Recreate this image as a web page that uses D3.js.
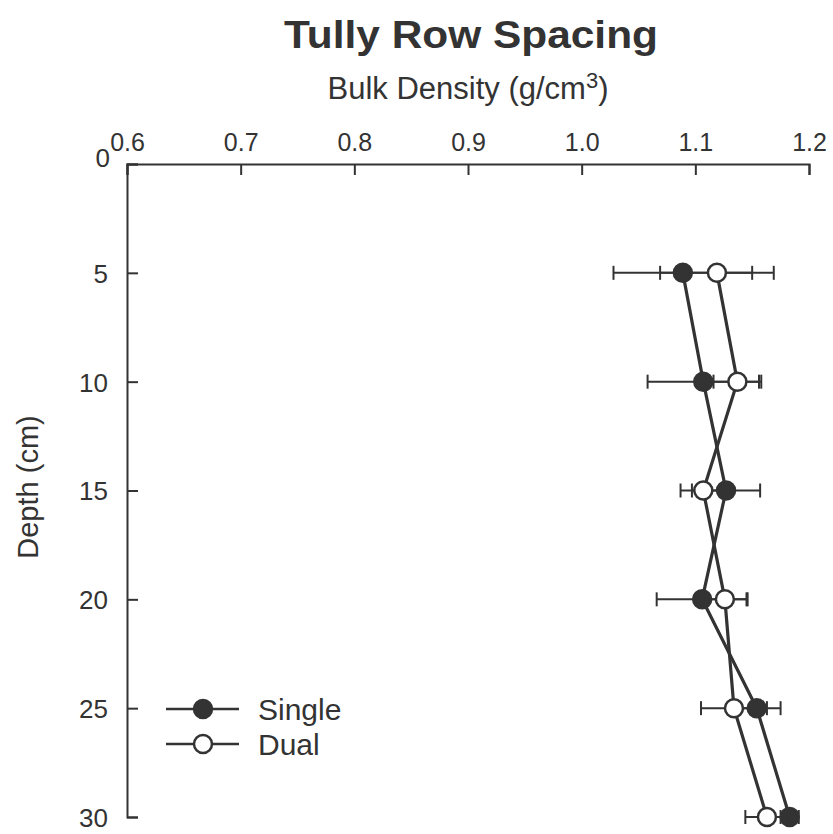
<!DOCTYPE html>
<html>
<head>
<meta charset="utf-8">
<script src="https://cdn.jsdelivr.net/npm/d3@7"></script>
<style>
  body { margin: 0; background: #fff; }
  text { font-family: "Liberation Sans", Arial, sans-serif; fill: #333; }
</style>
</head>
<body>
<div id="chart"></div>
<script>
// data
var depths = [5, 10, 15, 20, 25, 30];
var singleVals = [1.089, 1.107, 1.127, 1.106, 1.154, 1.183];
var singleErr  = [0.061, 0.049, 0.030, 0.040, 0.021, 0.008];
var dualVals   = [1.119, 1.137, 1.107, 1.126, 1.134, 1.163];
var dualErr    = [0.050, 0.021, 0.020, 0.019, 0.029, 0.019];
var xTicks = [0.6, 0.7, 0.8, 0.9, 1.0, 1.1, 1.2];
var yTicks = [0, 5, 10, 15, 20, 25, 30];

var W = 833, H = 834, ink = "#333";

var svg = d3.select("#chart").append("svg")
  .attr("width", W).attr("height", H);

var x = d3.scaleLinear().domain([0.6, 1.2]).range([127, 809]);
var y = d3.scaleLinear().domain([0, 30]).range([164, 817]);

// title
svg.append("text")
  .attr("x", 471).attr("y", 48)
  .attr("text-anchor", "middle")
  .attr("textLength", 374).attr("lengthAdjust", "spacingAndGlyphs")
  .style("font-size", "39px").style("font-weight", "bold")
  .text("Tully Row Spacing");

var sub = svg.append("text")
  .attr("x", 468).attr("y", 99)
  .attr("text-anchor", "middle")
  .style("font-size", "31px");
sub.append("tspan").text("Bulk Density (g/cm");
sub.append("tspan").attr("dy", -11).style("font-size", "22px").text("3");
sub.append("tspan").attr("dy", 11).text(")");

// top x axis
var xAxis = svg.append("g")
  .attr("transform", "translate(0," + y(0) + ")")
  .call(d3.axisTop(x).tickValues(xTicks).tickSize(-11));
xAxis.select(".domain").attr("stroke", ink).attr("stroke-width", 2);
xAxis.selectAll(".tick line").attr("stroke", ink).attr("stroke-width", 2);
xAxis.selectAll(".tick text").remove();
xAxis.selectAll(".tick").append("text")
  .attr("y", -13)
  .attr("text-anchor", "middle")
  .style("font-size", "25px")
  .text(function(d) { return d3.format(".1f")(d); });

// left y axis
var yAxis = svg.append("g")
  .attr("transform", "translate(" + x(0.6) + ",0)")
  .call(d3.axisLeft(y).tickValues(yTicks).tickSize(-11));
yAxis.select(".domain").attr("stroke", ink).attr("stroke-width", 2);
yAxis.selectAll(".tick line").attr("stroke", ink).attr("stroke-width", 2);
yAxis.selectAll(".tick text").remove();
yAxis.selectAll(".tick").append("text")
  .attr("x", function(d) { return d == 0 ? -17 : -19; })
  .attr("dy", function(d) { return d == 0 ? "0.1em" : "0.36em"; })
  .attr("text-anchor", "end")
  .style("font-size", "26px")
  .text(function(d) { return d; });

svg.append("text")
  .attr("transform", "translate(38," + 487 + ") rotate(-90)")
  .attr("text-anchor", "middle")
  .style("font-size", "29px")
  .text("Depth (cm)");

function drawSeries(vals, errs, fill) {
  var pts = depths.map(function(d, i) { return {d: d, v: vals[i], e: errs[i]}; });
  var g = svg.append("g");
  // error bars
  var eb = g.selectAll(".eb").data(pts).enter().append("g");
  eb.append("line")
    .attr("x1", function(p) { return x(p.v - p.e); })
    .attr("x2", function(p) { return x(p.v + p.e); })
    .attr("y1", function(p) { return y(p.d); })
    .attr("y2", function(p) { return y(p.d); })
    .attr("stroke", ink).attr("stroke-width", 2);
  [-1, 1].forEach(function(s) {
    eb.append("line")
      .attr("x1", function(p) { return x(p.v + s * p.e); })
      .attr("x2", function(p) { return x(p.v + s * p.e); })
      .attr("y1", function(p) { return y(p.d) - 7; })
      .attr("y2", function(p) { return y(p.d) + 7; })
      .attr("stroke", ink).attr("stroke-width", 2);
  });
  return {g: g, pts: pts, fill: fill};
}

function drawLine(s) {
  s.g.append("path")
    .datum(s.pts)
    .attr("fill", "none").attr("stroke", ink).attr("stroke-width", 3.2)
    .attr("d", d3.line().x(function(p) { return x(p.v); }).y(function(p) { return y(p.d); }));
}

function drawDots(s) {
  s.g.selectAll("circle").data(s.pts).enter().append("circle")
    .attr("cx", function(p) { return x(p.v); })
    .attr("cy", function(p) { return y(p.d); })
    .attr("r", 9)
    .attr("fill", s.fill).attr("stroke", ink).attr("stroke-width", 2.5);
}

var single = drawSeries(singleVals, singleErr, ink);
var dual = drawSeries(dualVals, dualErr, "#fff");
drawLine(single); drawLine(dual);
drawDots(single); drawDots(dual);

// legend
var legend = [{name: "Single", fill: ink}, {name: "Dual", fill: "#fff"}];
var lg = svg.selectAll(".lg").data(legend).enter().append("g")
  .attr("transform", function(d, i) { return "translate(0," + (709 + i * 35) + ")"; });
lg.append("line").attr("x1", 166).attr("x2", 239)
  .attr("stroke", ink).attr("stroke-width", 2.5);
lg.append("circle").attr("cx", 203).attr("r", 9)
  .attr("fill", function(d) { return d.fill; })
  .attr("stroke", ink).attr("stroke-width", 2.5);
lg.append("text").attr("x", 258).attr("dy", "0.36em")
  .style("font-size", "30px")
  .text(function(d) { return d.name; });
</script>
</body>
</html>
